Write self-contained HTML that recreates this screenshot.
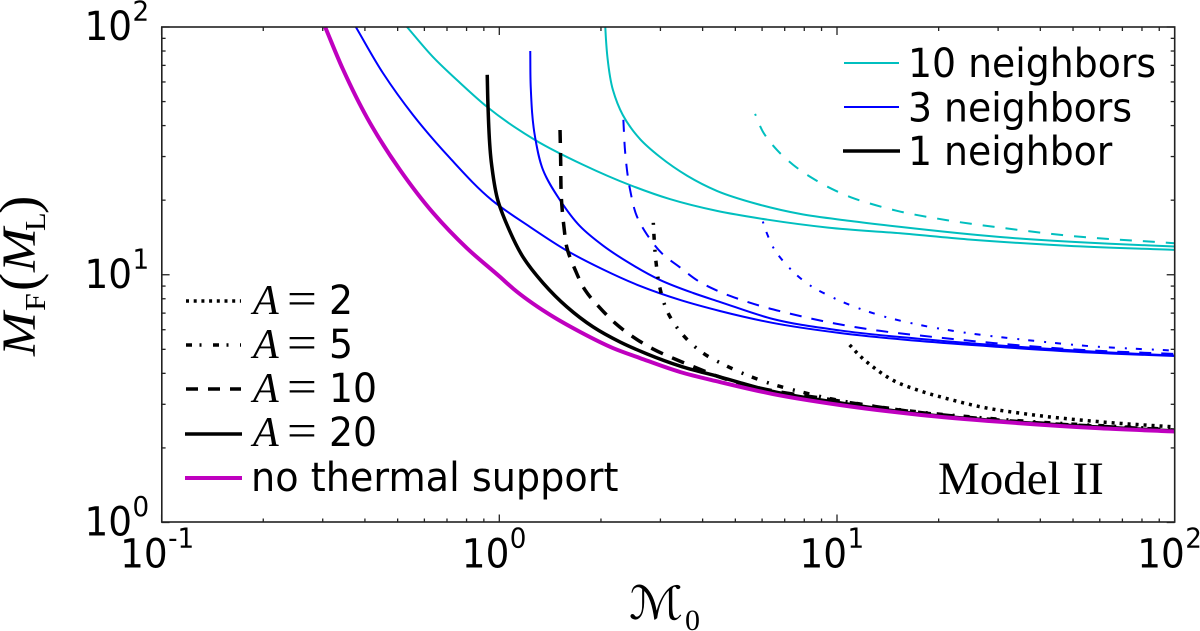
<!DOCTYPE html>
<html lang="en">
<head>
<meta charset="utf-8">
<title>Model II chart</title>
<style>
html,body{margin:0;padding:0;background:#fff;}
svg{display:block;}
.dj{font-family:"DejaVu Sans","Liberation Sans",sans-serif;fill:#000;}
.se{font-family:"Liberation Serif",serif;fill:#000;}
</style>
</head>
<body>
<svg id="chart" xmlns="http://www.w3.org/2000/svg" width="1200" height="631" viewBox="0 0 1200 631">
  <rect x="0" y="0" width="1200" height="631" fill="#fff"/>
  <g id="curves" fill="none"></g>
  <g id="ticks"></g>
  <rect x="161.8" y="27" width="1012.9" height="495" fill="none" stroke="#222" stroke-width="1.6"/>
  <g id="ticklabels"></g>

  <g>
    <text class="se" font-style="italic" font-size="48" transform="translate(35,356) rotate(-90) scale(1.1,1)">M</text>
    <text class="se" font-size="29" transform="translate(45,311) rotate(-90) scale(1.1,1)">F</text>
    <text class="se" font-size="55" transform="translate(37,291) rotate(-90)">(</text>
    <text class="se" font-style="italic" font-size="48" transform="translate(35,272) rotate(-90) scale(1.1,1)">M</text>
    <text class="se" font-size="29" transform="translate(45,231) rotate(-90) scale(1.05,1)">L</text>
    <text class="se" font-size="55" transform="translate(37,214) rotate(-90)">)</text>
  </g>
  <g>
    <text class="dj" font-size="46" x="629" y="619" textLength="54" lengthAdjust="spacingAndGlyphs">ℳ</text>
    <text class="se" font-size="30" x="685" y="630" textLength="15" lengthAdjust="spacingAndGlyphs">0</text>
  </g>

  <text class="se" font-size="47" x="938" y="494">Model II</text>

  <g>
    <line x1="844" x2="899" y1="63" y2="63" stroke="#00bfbf" stroke-width="2"/>
    <text class="dj" font-size="40" transform="translate(908,77) scale(.945,1)">10 neighbors</text>
    <line x1="844" x2="899" y1="107" y2="107" stroke="#0000ff" stroke-width="2"/>
    <text class="dj" font-size="40" transform="translate(908,121.5) scale(.945,1)">3 neighbors</text>
    <line x1="843" x2="900" y1="151" y2="151" stroke="#000" stroke-width="3.5"/>
    <text class="dj" font-size="40" transform="translate(908,165) scale(.945,1)">1 neighbor</text>
  </g>

  <g>
    <line x1="186" x2="241" y1="301" y2="301" stroke="#000" stroke-width="3.5" stroke-dasharray="3 4.7"/>
    <g>
      <text class="se" font-style="italic" font-size="42" x="253" y="314">A</text>
      <text class="se" font-size="46" transform="translate(287,314) scale(1.15,1)">=</text>
      <text class="dj" font-size="40" transform="translate(329,314) scale(.945,1)">2</text>
    </g>
    <line x1="186" x2="241" y1="345" y2="345" stroke="#000" stroke-width="3.5" stroke-dasharray="6 7.5 2 11.5"/>
    <g>
      <text class="se" font-style="italic" font-size="42" x="253" y="358">A</text>
      <text class="se" font-size="46" transform="translate(287,358) scale(1.15,1)">=</text>
      <text class="dj" font-size="40" transform="translate(329,358) scale(.945,1)">5</text>
    </g>
    <line x1="186" x2="241" y1="389" y2="389" stroke="#000" stroke-width="3.5" stroke-dasharray="12 10"/>
    <g>
      <text class="se" font-style="italic" font-size="42" x="253" y="402">A</text>
      <text class="se" font-size="46" transform="translate(287,402) scale(1.15,1)">=</text>
      <text class="dj" font-size="40" transform="translate(329,402) scale(.945,1)">10</text>
    </g>
    <line x1="185" x2="242" y1="434" y2="434" stroke="#000" stroke-width="3.5"/>
    <g>
      <text class="se" font-style="italic" font-size="42" x="253" y="446">A</text>
      <text class="se" font-size="46" transform="translate(287,446) scale(1.15,1)">=</text>
      <text class="dj" font-size="40" transform="translate(329,446) scale(.945,1)">20</text>
    </g>
    <line x1="185" x2="242" y1="478" y2="478" stroke="#bf00bf" stroke-width="4"/>
    <text class="dj" font-size="40" transform="translate(251,491) scale(.955,1)">no thermal support</text>
  </g>
</svg>

<script>
// Mach number readings and fragment-mass readings for every curve
const noThermalX = [0.305,0.344,0.406,0.508,0.636,0.802,1.005,1.098,1.385,1.734,2.17,2.61,3.43,4.5,6.46,10.2,17.6,30.4,60.1,100];
const noThermalY = [100,67.7,43,26.5,17.8,12.8,9.8,8.8,7.01,5.88,5.06,4.61,4.05,3.69,3.3,2.98,2.72,2.55,2.4,2.33];

const oneA20X = [0.921,0.926,0.949,0.991,1.054,1.175,1.347,1.587,1.895,2.28,2.74,3.43,4.5,6.46,10.2,17.6,30.4,100];
const oneA20Y = [64.1,47.6,27.8,19.9,15.9,11.8,9.27,7.41,6.16,5.35,4.79,4.28,3.87,3.38,3.04,2.74,2.57,2.34];
const oneA10X = [1.513,1.519,1.53,1.554,1.587,1.676,1.794,1.987,2.2,2.49,2.85,3.31,3.85,4.41,5.91,9.34,16.1,30.4,100];
const oneA10Y = [38.4,29.9,19.5,15.6,12.8,10.5,8.68,7.35,6.39,5.61,5.02,4.57,4.2,3.9,3.49,3.15,2.82,2.59,2.36];
const oneA5X = [2.858,2.87,2.91,2.99,3.16,3.5,4.01,4.72,5.53,6.55,7.88,9.34,11.15,16.1,30.4,100];
const oneA5Y = [16.2,14.5,11.3,8.84,7.01,5.71,4.83,4.28,3.89,3.59,3.36,3.18,3.04,2.83,2.61,2.37];
const oneA2X = [10.9,11.7,12.8,14.6,17.6,21.6,26,38,60.1,100];
const oneA2Y = [5.21,4.7,4.24,3.76,3.4,3.14,2.95,2.72,2.55,2.43];

const threeBaseX = [0.376,0.452,0.555,0.714,0.951,1.233,1.587,2.03,2.61,3.43,4.5,6.46,10.2,17.6,30.4,60.1,100];
const threeBaseY = [100,65.3,44.2,29.6,20,15.6,12.5,10.5,9.01,7.91,7.14,6.39,5.82,5.4,5.11,4.83,4.7];
const threeA20X = [1.235,1.239,1.276,1.347,1.513,1.734,2.03,2.44,2.99,3.75,4.5,6.46,10.2,17.6,30.4,60.1,100];
const threeA20Y = [80,57.3,36,26.5,20,15.7,13.1,11.1,9.53,8.44,7.77,6.63,5.96,5.51,5.18,4.88,4.72];
const threeA10X = [2.33,2.36,2.44,2.56,2.74,3.03,3.43,3.88,4.44,5.16,6,6.92,9.34,12.8,19.25,32.5,53.5,100];
const threeA10Y = [42.2,31,22,17.1,14.5,12.2,10.7,9.44,8.6,7.95,7.45,7.08,6.45,5.99,5.61,5.23,4.97,4.79];
const threeA5X = [6.03,6.2,6.46,7.16,8.2,9.65,11.5,13.6,17.6,23.1,36.5,55,100];
const threeA5Y = [16.4,14.7,12.95,10.8,9.18,8.13,7.35,6.82,6.27,5.88,5.45,5.16,4.94];

const tenBaseX = [0.533,0.636,0.765,0.92,1.276,1.77,2.44,3.2,4.41,6.2,9.41,15.4,24.3,48,100];
const tenBaseY = [100,75.7,59.5,47.6,35,27.8,23,20.2,18.1,16.7,15.5,14.7,13.9,13.1,12.6];
const tenA20X = [2.06,2.07,2.09,2.17,2.32,2.61,2.99,3.6,4.41,5.8,7.77,10.9,15.4,30.4,60.1,100];
const tenA20Y = [100,88.7,75.7,55.7,44.2,35.3,29.9,25.1,21.8,19.3,17.6,16.5,15.6,14.2,13.4,13];
const tenA10X = [5.72,6.04,6.64,7.41,8.43,9.66,11.15,13,15.1,21.2,30.4,48,100];
const tenA10Y = [44.6,37.7,31.9,27.8,24.6,22.2,20.4,19.1,18.1,16.6,15.5,14.4,13.4];

// Axis ticks and labels
const decadeExponents = [-1,0,1,2];
const yDecadeExponents = [0,1,2];
const minorMultipliers = [2,3,4,5,6,7,8,9];
const xTickExponentLabels = ['-1','0','1','2'];
const yTickExponentLabels = ['0','1','2'];

// Axis functions
const X0 = 161.6, X1 = 1174.7, Y0 = 522.5, Y1 = 27;
function xPos(m){ return X0 + (Math.log10(m) + 1) / 3 * (X1 - X0); }
function yPos(v){ return Y0 - Math.log10(v) / 2 * (Y0 - Y1); }

const NS = 'http://www.w3.org/2000/svg';
function smoothPath(xs, ys){
  const p = xs.map((x, i) => [xPos(x), yPos(ys[i])]);
  const n = p.length;
  const seg = [];
  for (let i = 0; i < n - 1; i++) {
    const dx = p[i + 1][0] - p[i][0], dy = p[i + 1][1] - p[i][1], l = Math.hypot(dx, dy) || 1;
    seg.push([dx / l, dy / l, l]);
  }
  const tan = p.map((q, i) => {
    if (i === 0) return [seg[0][0], seg[0][1]];
    if (i === n - 1) return [seg[n - 2][0], seg[n - 2][1]];
    const a = seg[i - 1], b = seg[i];
    const tx = a[0] * b[2] + b[0] * a[2], ty = a[1] * b[2] + b[1] * a[2], l = Math.hypot(tx, ty) || 1;
    return [tx / l, ty / l];
  });
  let d = 'M' + p[0][0].toFixed(2) + ' ' + p[0][1].toFixed(2);
  for (let i = 0; i < n - 1; i++) {
    const s = seg[i][2] / 3;
    d += 'C' + (p[i][0] + tan[i][0] * s).toFixed(2) + ' ' + (p[i][1] + tan[i][1] * s).toFixed(2) + ' '
      + (p[i + 1][0] - tan[i + 1][0] * s).toFixed(2) + ' ' + (p[i + 1][1] - tan[i + 1][1] * s).toFixed(2) + ' '
      + p[i + 1][0].toFixed(2) + ' ' + p[i + 1][1].toFixed(2);
  }
  return d;
}

const curvesG = document.getElementById('curves');
function addCurve(name, xs, ys, color, width, dash, offset){
  const el = document.createElementNS(NS, 'path');
  
  
  el.setAttribute('d', smoothPath(xs, ys));
  el.setAttribute('stroke', color);
  el.setAttribute('stroke-width', width);
  if (dash) el.setAttribute('stroke-dasharray', dash);
  if (offset) el.setAttribute('stroke-dashoffset', offset);
  curvesG.appendChild(el);
}
const CYAN = '#00bfbf', BLUE = '#0000ff', MAG = '#bf00bf';
addCurve('curve-10-neighbors-no-thermal', tenBaseX, tenBaseY, CYAN, 2);
addCurve('curve-10-neighbors-a20', tenA20X, tenA20Y, CYAN, 2);
addCurve('curve-10-neighbors-a10', tenA10X, tenA10Y, CYAN, 2, '12 11', 10);
addCurve('curve-3-neighbors-no-thermal', threeBaseX, threeBaseY, BLUE, 2);
addCurve('curve-3-neighbors-a20', threeA20X, threeA20Y, BLUE, 2);
addCurve('curve-3-neighbors-a10', threeA10X, threeA10Y, BLUE, 2, '12 10');
addCurve('curve-3-neighbors-a5', threeA5X, threeA5Y, BLUE, 2, '2 9 6 10');
addCurve('curve-1-neighbor-a2', oneA2X, oneA2Y, '#000', 3.5, '3 5');
addCurve('curve-1-neighbor-a5', oneA5X, oneA5Y, '#000', 3.5, '2 9 6 10');
addCurve('curve-1-neighbor-a10', oneA10X, oneA10Y, '#000', 3.5, '13 10');
addCurve('curve-1-neighbor-a20', oneA20X, oneA20Y, '#000', 3.5);
addCurve('curve-no-thermal-support', noThermalX, noThermalY, MAG, 4);

// Ticks
const ticksG = document.getElementById('ticks');
function addTick(name, x1, y1, x2, y2){
  const el = document.createElementNS(NS, 'line');
  
  
  el.setAttribute('x1', x1);
  el.setAttribute('y1', y1);
  el.setAttribute('x2', x2);
  el.setAttribute('y2', y2);
  el.setAttribute('stroke', '#222');
  el.setAttribute('stroke-width', 1.3);
  ticksG.appendChild(el);
}
const MAJOR = 8, MINOR = 4;
decadeExponents.forEach(e => {
  const v = Math.pow(10, e);
  const x = xPos(v);
  addTick('x-major-tick', x, Y0, x, Y0 - MAJOR);
  addTick('x-major-tick-top', x, Y1, x, Y1 + MAJOR);
  if (e < 2) minorMultipliers.forEach(k => {
    const mx = xPos(k * v);
    addTick('x-minor-tick', mx, Y0, mx, Y0 - MINOR);
    addTick('x-minor-tick-top', mx, Y1, mx, Y1 + MINOR);
  });
});
yDecadeExponents.forEach(e => {
  const v = Math.pow(10, e);
  const y = yPos(v);
  addTick('y-major-tick', X0, y, X0 + MAJOR, y);
  addTick('y-major-tick-right', X1, y, X1 - MAJOR, y);
  if (e < 2) minorMultipliers.forEach(k => {
    const my = yPos(k * v);
    addTick('y-minor-tick', X0, my, X0 + MINOR, my);
    addTick('y-minor-tick-right', X1, my, X1 - MINOR, my);
  });
});

// Tick labels
const labelsG = document.getElementById('ticklabels');
function addLabel(name, base, exp, x, baseY, supY){
  const t = document.createElementNS(NS, 'text');
  
  
  t.setAttribute('class', 'dj');
  t.setAttribute('font-size', '40');
  t.setAttribute('transform', 'translate(' + x + ',' + baseY + ') scale(.935,1)');
  t.textContent = base;
  labelsG.appendChild(t);
  const s = document.createElementNS(NS, 'text');
  
  
  s.setAttribute('class', 'dj');
  s.setAttribute('font-size', '28');
  s.setAttribute('transform', 'translate(' + (x + 48) + ',' + supY + ') scale(.935,1)');
  s.textContent = exp;
  labelsG.appendChild(s);
}
xTickExponentLabels.forEach((lab, i) => {
  const shift = lab.length > 1 ? 41.5 : 37.5;
  addLabel('x-tick-label', '10', lab, xPos(Math.pow(10, decadeExponents[i])) - shift, 567.5, 547.5);
});
yTickExponentLabels.forEach((lab, i) => {
  const y = yPos(Math.pow(10, yDecadeExponents[i]));
  addLabel('y-tick-label', '10', lab, 84.5, y + 13, y - 6.5);
});
</script>
</body>
</html>
